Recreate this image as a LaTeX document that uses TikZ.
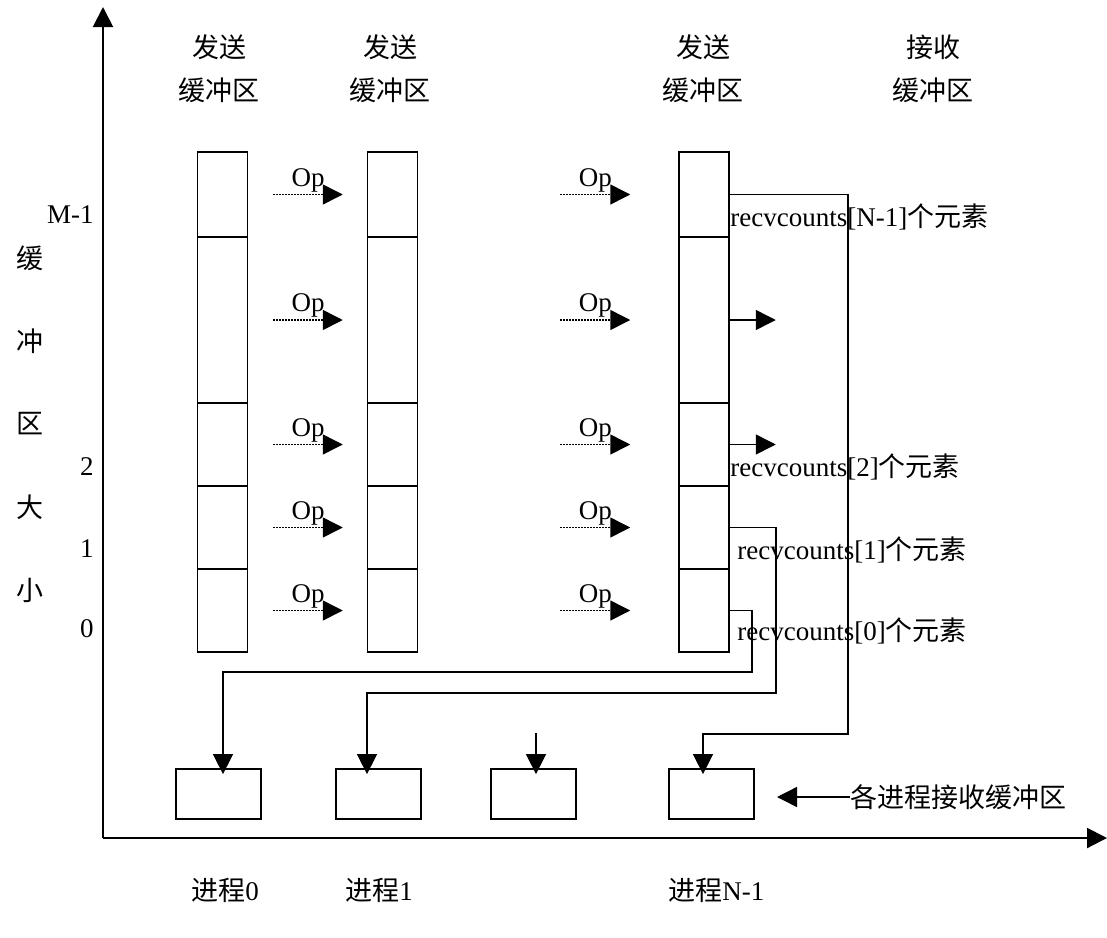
\documentclass[tikz,border=0pt]{standalone}
\usepackage{fontspec}
\setmainfont{Liberation Serif}
\newfontfamily\cjk{Noto Sans CJK SC}
\usetikzlibrary{calc,arrows.meta,positioning}
\tikzset{
  cell/.style={draw,line width=0.75pt,minimum width=25pt,inner sep=0pt},
  rbox/.style={draw,line width=0.9pt,minimum width=42.5pt,minimum height=25pt,inner sep=0pt},
  ar/.style={-{Triangle[length=10pt,width=10pt]},line width=0.75pt},
  conn/.style={ar,shorten >=-3pt},
  opar/.style={ar,dash pattern=on 0.8pt off 0.7pt},
  axis/.style={-{Triangle[length=10pt,width=10pt]},line width=1pt},
  lbl/.style={font=\fontsize{13.5}{16}\selectfont,inner sep=0pt},
  zh/.style={lbl,font=\fontsize{13.5}{16}\selectfont\cjk},
  head/.style={lbl,align=center,font=\fontsize{13.5}{21.5}\selectfont\cjk}
}
\begin{document}
\begin{tikzpicture}[x=0.5pt,y=-0.5pt]
\useasboundingbox (0,0) rectangle (1107,937);
% axes
\coordinate (O) at (103,838);
\draw[axis] (O) -- (103,7);
\draw[axis] (O) -- (1107,838);
% send / receive buffers
\foreach \c/\cx in {s0/222.5,s1/392.5,sN/704}
  \foreach \r/\ya/\yb in {0/152/237,1/237/403,2/403/486,3/486/569,4/569/652}
    \node[cell,minimum height={(\yb-\ya)*0.5pt}] (\c-\r) at (\cx,{(\ya+\yb)/2}) {};
\node[head] (h0) at (219,69) {发送\\缓冲区};
\node[head] (h1) at (390,69) {发送\\缓冲区};
\node[head] (hN) at (703,69) {发送\\缓冲区};
\node[head] (hR) at (933,69) {接收\\缓冲区};
% reduction steps
\foreach \r in {0,...,4}{
  \draw[opar] ($(s0-\r.east)+(25,0)$) -- ($(s1-\r.west)+(-24,0)$)
    node[lbl,midway,above=1pt] (opa\r) {Op};
  \draw[opar] ($(s1-\r.east)+(142,0)$) -- ($(sN-\r.west)+(-48,0)$)
    node[lbl,midway,above=1pt] (opb\r) {Op};
}
\draw[ar] (sN-1.east) -- ++(46,0);
\draw[ar] (sN-2.east) -- ++(46,0);
% axis labels
\node[lbl,anchor=east] (yM) at (94,215) {M-1};
\node[lbl,anchor=east] (y2) at (94,467) {2};
\node[lbl,anchor=east] (y1) at (94,549) {1};
\node[lbl,anchor=east] (y0) at (94,629) {0};
\foreach \t [count=\i from 0] in {缓,冲,区,大,小}
  \node[zh] (v\i) at (30,{258+83*\i}) {\t};
\node[lbl,anchor=west] (rN) at (730,217) {recvcounts[N-1]{\cjk 个元素}};
\node[lbl,anchor=west] (r2) at (730,467) {recvcounts[2]{\cjk 个元素}};
\node[lbl,anchor=west] (r1) at (737,550) {recvcounts[1]{\cjk 个元素}};
\node[lbl,anchor=west] (r0) at (737,631) {recvcounts[0]{\cjk 个元素}};
% receive buffers of the processes
\node[rbox] (b0) at (218.5,794) {};
\node[rbox] (b1) at (378.5,794) {};
\node[rbox] (b2) at (533.5,794) {};
\node[rbox] (b3) at (711.5,794) {};
\draw[conn] (sN-4.east) -| (752,672) -| ([xshift=2.25pt]b0.north);
\draw[conn] (sN-3.east) -| (776,693) -| ([xshift=-5.75pt]b1.north);
\draw[conn] (sN-0.east) -| (848,734) -| ([xshift=-4.25pt]b3.north);
\draw[conn] ([xshift=1.25pt,yshift=17.5pt]b2.north) -- ([xshift=1.25pt]b2.north);
\node[zh,anchor=west] (leg) at (850,797) {各进程接收缓冲区};
\coordinate (legtip) at (777,797);
\draw[ar] (leg.west) -- (legtip);
% process names
\node[lbl,anchor=west] (p0) at (191,890) {{\cjk 进程}0};
\node[lbl,anchor=west] (p1) at (345,890) {{\cjk 进程}1};
\node[lbl,anchor=west] (pN) at (668,890) {{\cjk 进程}N-1};
\end{tikzpicture}
\end{document}
